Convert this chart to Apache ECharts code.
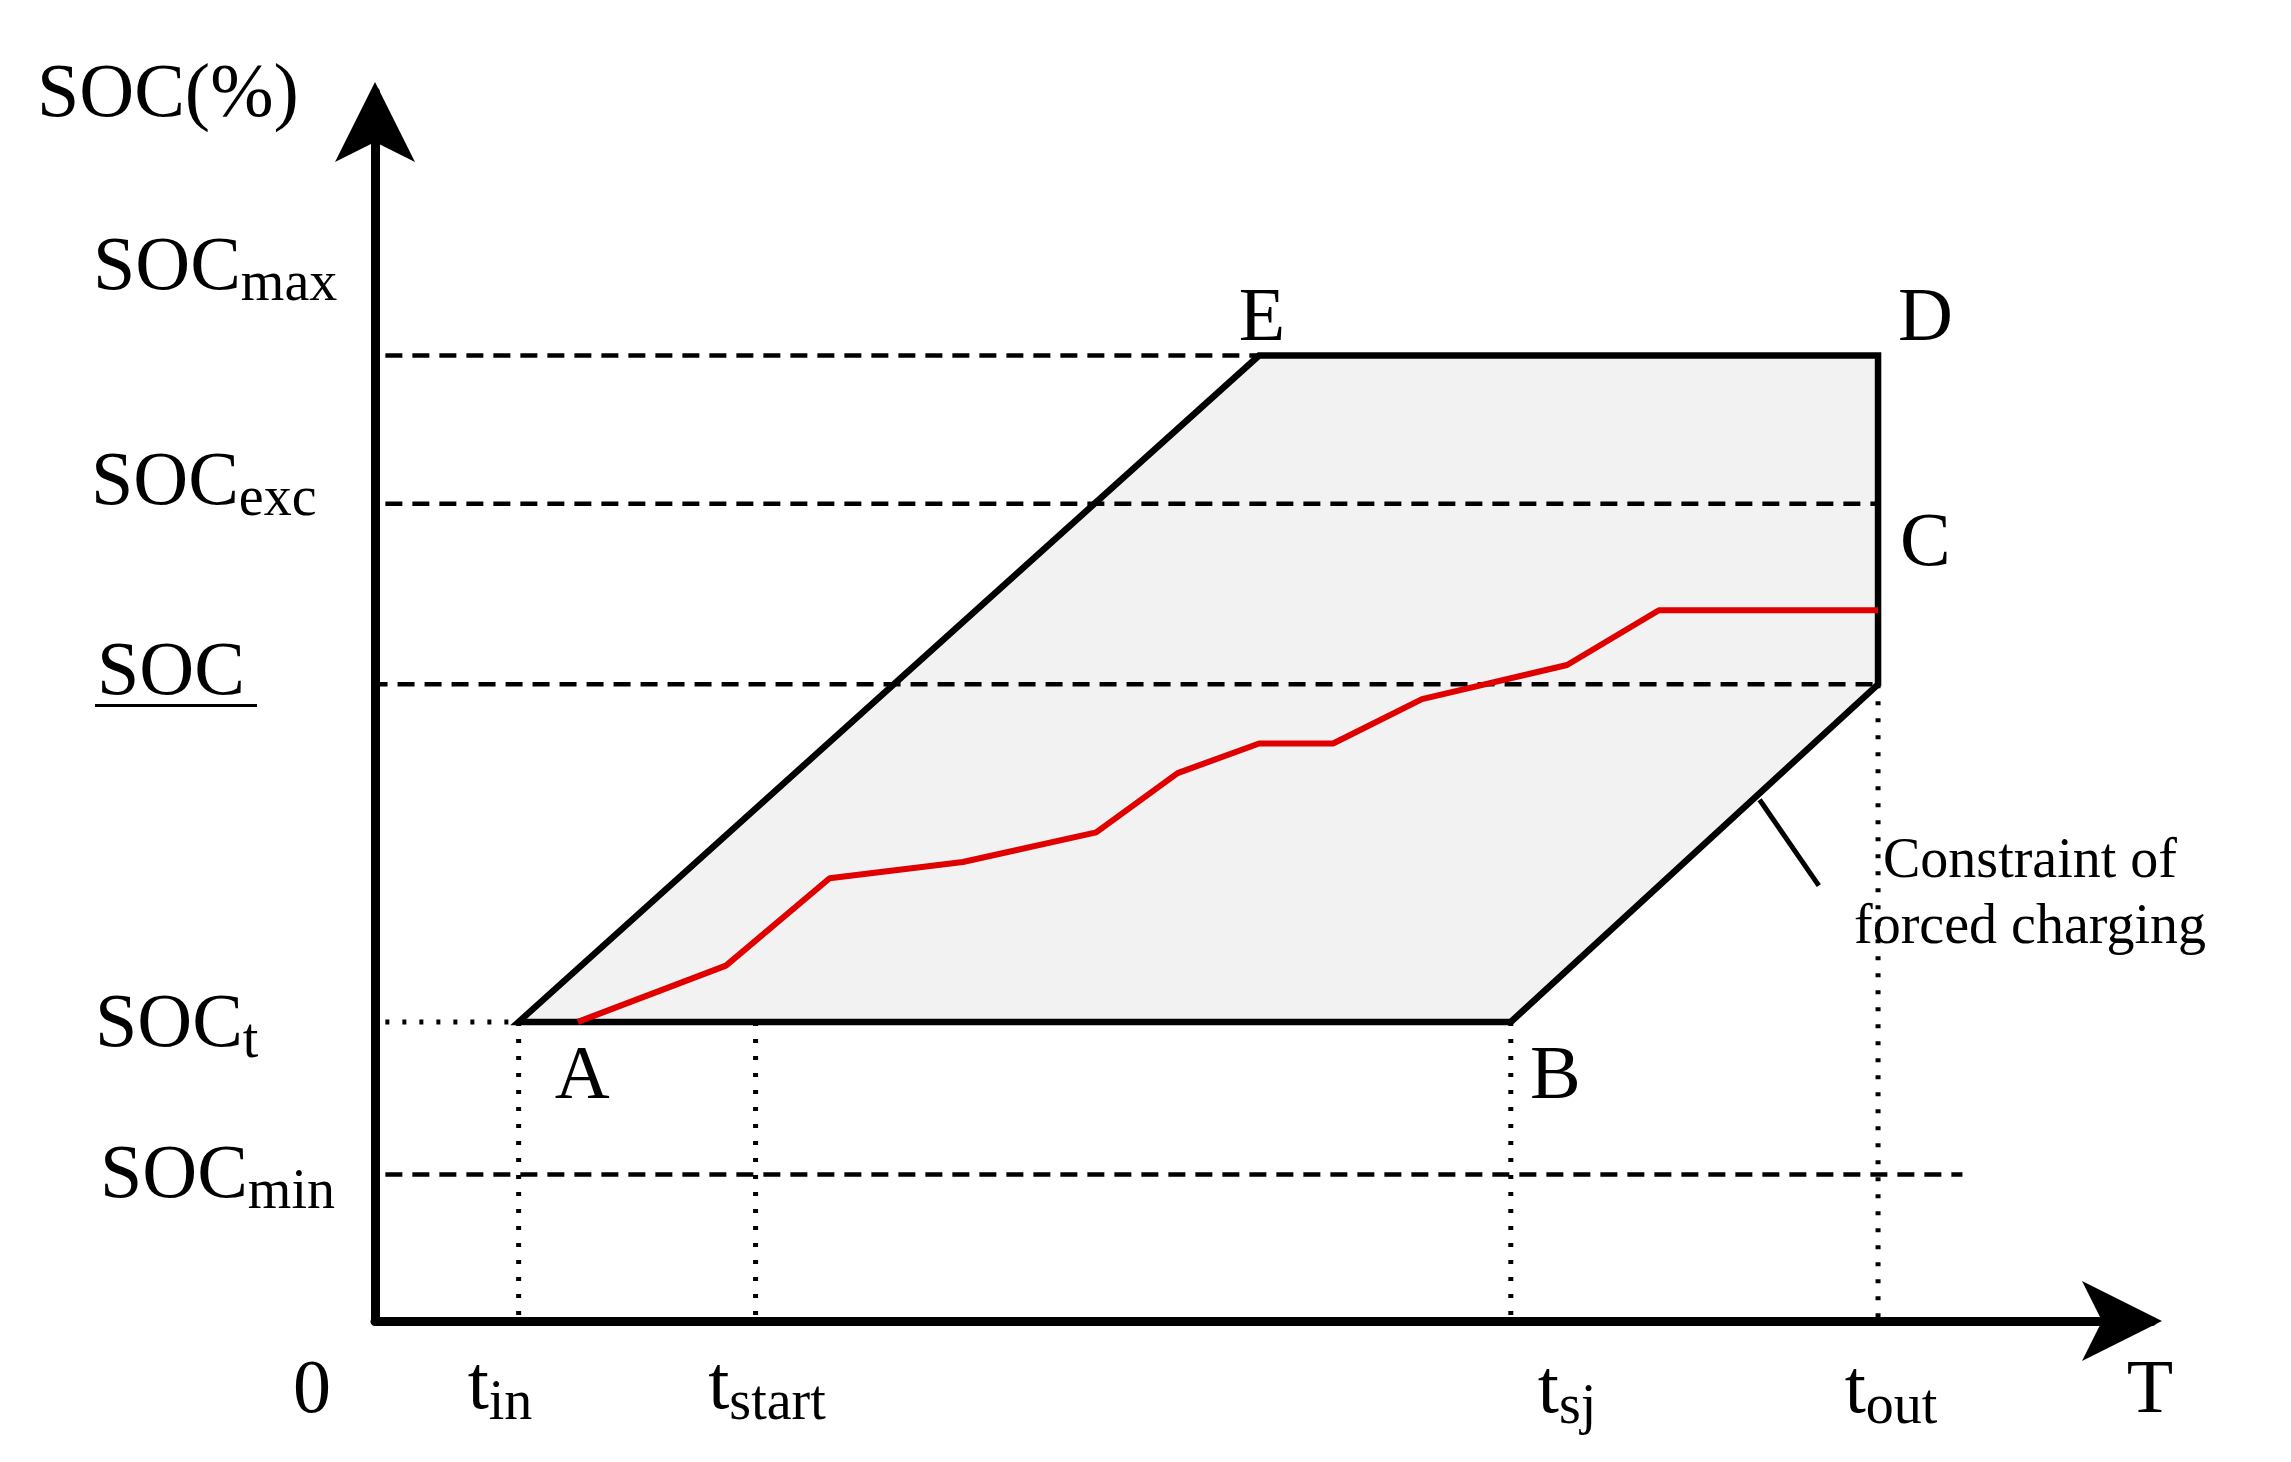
<!DOCTYPE html>
<html><head><meta charset="utf-8">
<script src="https://cdn.jsdelivr.net/npm/echarts@6/dist/echarts.min.js"></script>
<style>html,body{margin:0;background:#fff}#main{width:2291px;height:1462px}</style>
</head><body><div id="main"></div>
<script>
var chart = echarts.init(document.getElementById('main'));
var FONT = 'Liberation Serif';

// time marks (x) and SOC levels (y)
var tIn = 97, tStart = 257, tSj = 767, tOut = 1015;
var socMin = 99, socT = 202, socLow = 430, socExc = 552, socMax = 652;

// feasible region A-B-C-D-E
var region = [[tIn, socT], [tSj, socT], [tOut, socLow], [tOut, socMax], [597, socMax]];
// actual SOC trajectory
var trajectory = [[137, 202], [237, 240], [307, 299], [397, 310], [487, 330], [542, 370],
  [597, 390], [647, 390], [707, 420], [805, 443], [867, 480], [1015, 480]];
var pointNames = ['A', 'B', 'C', 'D', 'E'];
var pointLabelPos = [[140, 164], [797, 164], [1047, 524], [1047, 676], [599, 676]];

function seg(a, b, type) {
  return {
    type: 'line', data: [a, b], symbol: 'none', silent: true, z: 3,
    lineStyle: {color: '#000', width: type === 'dotted' ? 5 : 4.5, type: type === 'dotted' ? [4, 13] : [17, 10]}
  };
}

var series = [
  {
    type: 'custom',
    renderItem: function (params, api) {
      var pts = region.map(function (p) { return api.coord(p); });
      return {type: 'polygon', shape: {points: pts},
        style: {fill: '#f2f2f2', stroke: '#000', lineWidth: 6.5, lineJoin: 'miter'}};
    },
    data: [0], z: 1
  },
  seg([7, socMax], [597, socMax], 'dashed'),
  seg([7, socExc], [tOut, socExc], 'dashed'),
  seg([-3, socLow], [tOut, socLow], 'dashed'),
  seg([7, socMin], [1072, socMin], 'dashed'),
  seg([7, socT], [tIn, socT], 'dotted'),
  seg([tIn, socT], [tIn, 0], 'dotted'),
  seg([tStart, socT], [tStart, 0], 'dotted'),
  seg([tSj, socT], [tSj, 0], 'dotted'),
  seg([tOut, socLow], [tOut, 0], 'dotted'),
  {type: 'line', data: [[935, 352], [975, 294]], symbol: 'none', lineStyle: {color: '#000', width: 5}},
  {type: 'line', data: trajectory, symbol: 'none', z: 5, lineStyle: {color: '#e00000', width: 6}}
];

chart.setOption({
  animation: false,
  grid: {left: 375, right: 139, top: 92, bottom: 141},
  xAxis: {type: 'value', min: 0, max: 1200, splitLine: {show: false}, axisTick: {show: false}, axisLabel: {show: false},
    axisLine: {onZero: false, symbol: ['none', 'arrow'], symbolSize: [60, 80], symbolOffset: [0, 10], lineStyle: {color: '#000', width: 9}}},
  yAxis: {type: 'value', min: 0, max: 830, splitLine: {show: false}, axisTick: {show: false}, axisLabel: {show: false},
    axisLine: {onZero: false, symbol: ['none', 'arrow'], symbolSize: [60, 80], symbolOffset: [0, 10], lineStyle: {color: '#000', width: 9}}},
  series: series
});

function px(p) { return chart.convertToPixel({gridIndex: 0}, p); }
var rich = {s: {fontFamily: FONT, fontSize: 56, verticalAlign: 'bottom', padding: [0, 0, -6, 0]}};
var g = [];
function text(x, y, t, size, align) {
  g.push({type: 'text', x: x, y: y, z: 20, style: {text: t, font: size + 'px "' + FONT + '"', fill: '#000',
    align: align || 'center', verticalAlign: 'middle', rich: rich}});
}
pointNames.forEach(function (n, i) { var p = px(pointLabelPos[i]); text(p[0], p[1], n, 76); });
// y level labels
var yLabels = [['SOC{s|max}', 93, 269], ['SOC{s|exc}', 91, 484], ['SOC{s|t}', 95, 1026], ['SOC{s|min}', 100, 1177]];
yLabels.forEach(function (l) { text(l[1], l[2], l[0], 76, 'left'); });
text(97, 674, 'SOC', 76, 'left');
g.push({type: 'rect', shape: {x: 95, y: 704, width: 162, height: 3}, style: {fill: '#000'}});
text(37, 96, 'SOC(%)', 76, 'left');
// x labels
var xLabels = [['0', 312, 1392], ['t{s|in}', 500, 1388], ['t{s|start}', 767, 1388], ['t{s|sj}', 1567, 1392], ['t{s|out}', 1891, 1392], ['T', 2150, 1392]];
xLabels.forEach(function (l) { text(l[1], l[2], l[0], 76); });
text(2030, 862, 'Constraint of', 56);
text(2030, 928, 'forced charging', 56);
chart.setOption({graphic: g});
</script></body></html>
